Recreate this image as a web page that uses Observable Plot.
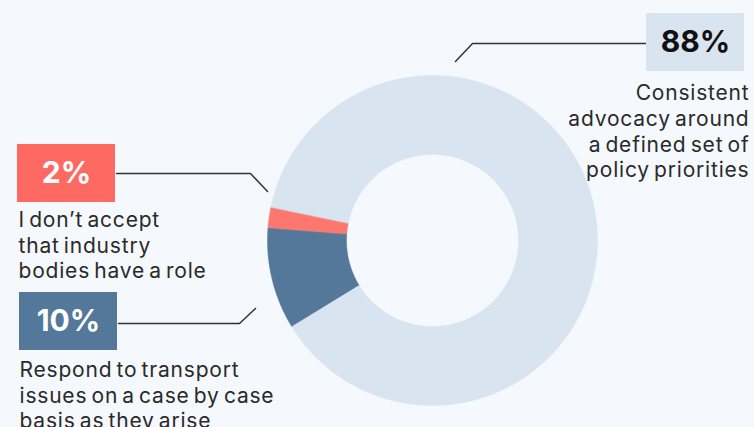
<!DOCTYPE html>
<html><head><meta charset="utf-8">
<script src="https://cdn.jsdelivr.net/npm/d3@7"></script>
<script src="https://cdn.jsdelivr.net/npm/@observablehq/plot@0.6"></script>
<style>
html,body{margin:0;padding:0;background:#f5f8fc;overflow:hidden}
</style></head><body><div id="chart"></div>
<script>
// ---- data ----
const categories = ["Respond to transport issues on a case by case basis as they arise",
                    "I don’t accept that industry bodies have a role",
                    "Consistent advocacy around a defined set of policy priorities"];
const values = [10, 2, 88];
const valueLabels = ["10%", "2%", "88%"];
const descriptions = [
  "Respond to transport\nissues on a case by case\nbasis as they arise",
  "I don’t accept\nthat industry\nbodies have a role",
  "Consistent\nadvocacy around\na defined set of\npolicy priorities"
];
const sliceColors = ["#54789a", "#fd776f", "#d8e4f0"];
const boxColors = ["#54789a", "#fe6a62", "#d8e4f0"];
const valueTextColors = ["#ffffff", "#ffffff", "#111111"];

// ---- layout ----
const W = 754, H = 427;
const cx = 432, cy = 240, R = 165, R0 = 86;
const startDeg = 238.5;
const FONT = "Inter, 'Open Sans', sans-serif";

const pie = d3.pie().sort(null).startAngle(startDeg * Math.PI / 180)
  .endAngle((startDeg + 360) * Math.PI / 180);
const arcs = pie(values);

function ringPoint(a, r) { return {x: cx + r * Math.sin(a), y: cy - r * Math.cos(a)}; }
function slicePolygon(arc) {
  const n = Math.max(8, Math.ceil((arc.endAngle - arc.startAngle) * 60));
  const pts = [];
  for (let i = 0; i <= n; i++) pts.push(ringPoint(arc.startAngle + (arc.endAngle - arc.startAngle) * i / n, R));
  for (let i = n; i >= 0; i--) pts.push(ringPoint(arc.startAngle + (arc.endAngle - arc.startAngle) * i / n, R0));
  return pts;
}

// annotation layout: box, connector path, description anchor
const boxes = [
  {x1: 19, y1: 292, x2: 117, y2: 350},
  {x1: 17, y1: 144, x2: 115, y2: 202},
  {x1: 646, y1: 13, x2: 744, y2: 71}
];
const connectors = [
  [{x: 118, y: 323}, {x: 239, y: 323}, {x: 255, y: 308}],
  [{x: 116, y: 173}, {x: 250, y: 173}, {x: 267, y: 191}],
  [{x: 646, y: 43}, {x: 472, y: 43}, {x: 455, y: 61}]
];
const descPos = [
  {x: 19, y: 394, anchor: "start"},
  {x: 18, y: 244, anchor: "start"},
  {x: 749, y: 130, anchor: "end"}
];

const marks = [];
arcs.forEach((a, i) => {
  marks.push(Plot.line(slicePolygon(a), {x: "x", y: "y", fill: sliceColors[i], stroke: sliceColors[i], strokeWidth: 0.5, curve: "linear-closed"}));
});
connectors.forEach(c => marks.push(Plot.line(c, {x: "x", y: "y", stroke: "#333333", strokeWidth: 1.5})));
marks.push(Plot.rect(boxes, {x1: "x1", x2: "x2", y1: "y1", y2: "y2", fill: (d, i) => boxColors[i]}));
marks.push(Plot.text(boxes, {
  x: d => (d.x1 + d.x2) / 2, y: d => (d.y1 + d.y2) / 2,
  text: (d, i) => valueLabels[i], fill: (d, i) => valueTextColors[i],
  fontSize: 30, fontWeight: 700, fontFamily: FONT
}));
descPos.forEach((p, i) => marks.push(Plot.text([descriptions[i]], {
  x: () => p.x, y: () => p.y, text: d => d, textAnchor: p.anchor, lineAnchor: "middle",
  lineHeight: 1.22, fontSize: 21, fill: "#2a2a2a", fontFamily: FONT
})));

const chart = Plot.plot({
  width: W, height: H,
  margin: 0,
  x: {domain: [0, W], range: [0, W], axis: null},
  y: {domain: [0, H], range: [0, H], axis: null},
  color: {type: "identity"},
  style: {background: "#f5f8fc", fontFamily: FONT},
  marks
});
// widen description text (reference font is wider)
const firstLines = descriptions.map(s => s.split("\n")[0]);
d3.select(chart).selectAll("text").each(function() {
  const t = this.textContent;
  if (firstLines.some(f => t.startsWith(f))) {
    this.style.letterSpacing = "0.8px";
    this.style.wordSpacing = "-2.5px";
  }
});
document.getElementById("chart").appendChild(chart);
</script></body></html>
